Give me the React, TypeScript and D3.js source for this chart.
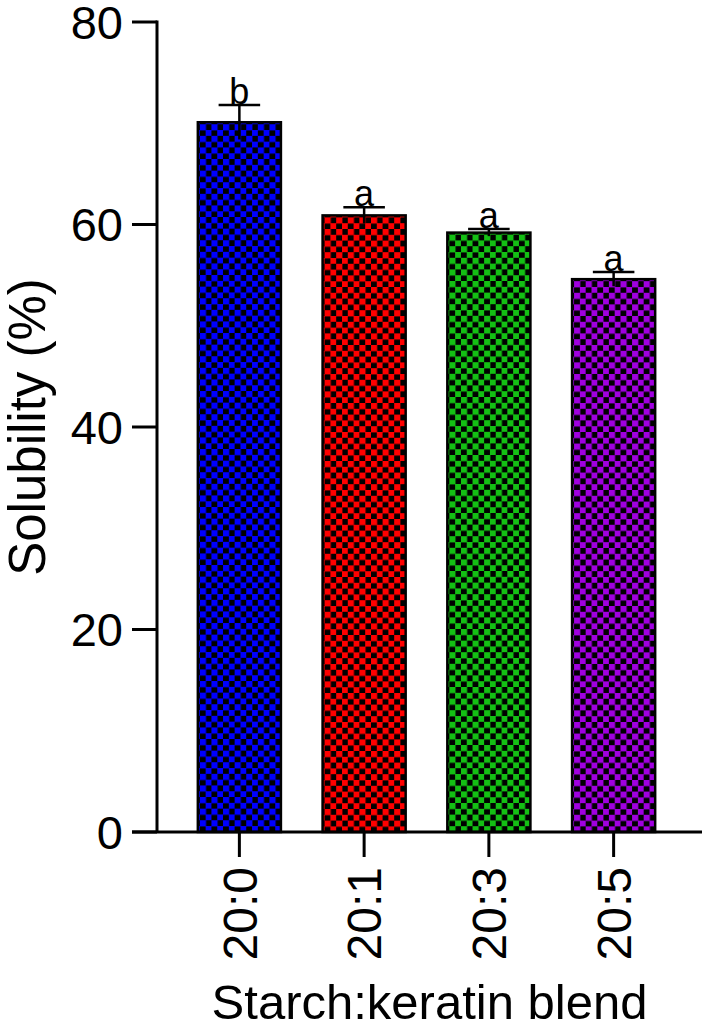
import React from "react";
import * as d3 from "d3";

const categories = ["20:0", "20:1", "20:3", "20:5"];
const means = [70.1, 60.9, 59.2, 54.6];
const errors = [1.7, 0.8, 0.35, 0.7];
const letters = ["b", "a", "a", "a"];
const colors = ["#0000ff", "#ff0000", "#14c014", "#a000e0"];
const yTicks = [0, 20, 40, 60, 80];

const W = 702;
const H = 1028;
const FONT = "'Liberation Sans', Arial, Helvetica, sans-serif";

export default function App() {
  const x = d3
    .scaleBand<string>()
    .domain(categories)
    .range([177, 676])
    .paddingInner(0.334)
    .paddingOuter(0.167);
  const y = d3.scaleLinear().domain([0, 80]).range([832, 22]);
  const axisX = 157;
  const P = 11.6;
  const S = 6.2;

  return (
    <svg width={W} height={H} style={{ display: "block", position: "absolute", left: 0, top: 0 }}>
      <defs>
        {colors.map((c, i) => (
          <pattern key={i} id={`chk${i}`} patternUnits="userSpaceOnUse" width={P} height={P} x={x(categories[i])! + 2} y={y(means[i]) + 2}>
            <rect width={P} height={P} fill="#000" />
            <rect x={0} y={0} width={S} height={S} fill={c} />
            <rect x={P / 2} y={P / 2} width={S} height={S} fill={c} />
          </pattern>
        ))}
      </defs>
      <rect width={W} height={H} fill="#fff" />
      {categories.map((c, i) => {
        const bx = x(c)!;
        const bw = x.bandwidth();
        const cx = bx + bw / 2;
        const top = y(means[i]);
        const hi = y(means[i] + errors[i]);
        const lo = y(means[i] - errors[i]);
        return (
          <g key={c}>
            <rect x={bx} y={top} width={bw} height={y(0) - top} fill={`url(#chk${i})`} stroke="#000" strokeWidth={2.5} />
            <line x1={cx} x2={cx} y1={hi} y2={lo} stroke="#000" strokeWidth={2.5} />
            <line x1={cx - bw / 4} x2={cx + bw / 4} y1={hi} y2={hi} stroke="#000" strokeWidth={2.5} />
            <text x={cx} y={hi - 1} textAnchor="middle" fontFamily={FONT} fontSize={36} fill="#000">
              {letters[i]}
            </text>
          </g>
        );
      })}
      {/* Y axis */}
      <line x1={axisX} x2={axisX} y1={y(80) - 1.5} y2={y(0)} stroke="#000" strokeWidth={3} />
      {yTicks.map((t) => (
        <g key={t}>
          <line x1={axisX - 25} x2={axisX} y1={y(t)} y2={y(t)} stroke="#000" strokeWidth={3} />
          <text x={axisX - 34} y={y(t)} dy="0.36em" textAnchor="end" fontFamily={FONT} fontSize={47} fill="#000">
            {t}
          </text>
        </g>
      ))}
      {/* X axis */}
      <line x1={axisX - 25} x2={W} y1={y(0)} y2={y(0)} stroke="#000" strokeWidth={3} />
      {categories.map((c) => {
        const cx = x(c)! + x.bandwidth() / 2;
        return (
          <g key={c}>
            <line x1={cx} x2={cx} y1={y(0)} y2={y(0) + 25} stroke="#000" strokeWidth={3} />
            <text
              transform={`translate(${cx},${y(0) + 35}) rotate(-90)`}
              dy="0.36em"
              textAnchor="end"
              fontFamily={FONT}
              fontSize={48}
              fill="#000"
            >
              {c}
            </text>
          </g>
        );
      })}
      <text x={(axisX + W) / 2} y={1019} textAnchor="middle" fontFamily={FONT} fontSize={49} fill="#000">
        Starch:keratin blend
      </text>
      <text
        transform={`translate(45,${(y(0) + y(80)) / 2}) rotate(-90)`}
        textAnchor="middle"
        fontFamily={FONT}
        fontSize={51}
        fill="#000"
      >
        Solubility (%)
      </text>
    </svg>
  );
}
